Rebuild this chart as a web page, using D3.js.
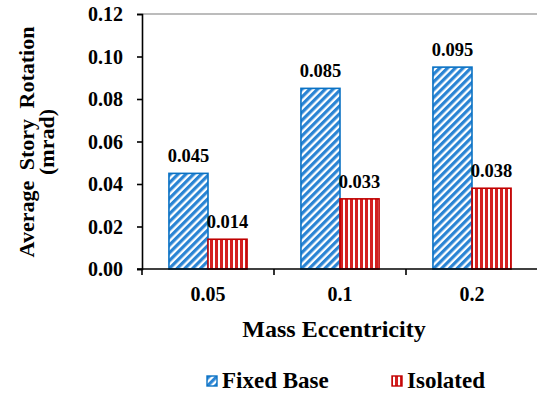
<!DOCTYPE html>
<html>
<head>
<meta charset="utf-8">
<script src="https://cdn.jsdelivr.net/npm/d3@7"></script>
</head>
<body style="margin:0;background:#fff">
<svg id="chart" width="537" height="396" style="display:block;background:#fff"></svg>
<script>
// Average story rotation by mass eccentricity
const categories = ["0.05", "0.1", "0.2"];
const seriesNames = ["Fixed Base", "Isolated"];
const fixedBase = [0.045, 0.085, 0.095];
const isolated = [0.014, 0.033, 0.038];
const valueLabels = [["0.045", "0.085", "0.095"], ["0.014", "0.033", "0.038"]];
const yTicks = [0, 0.02, 0.04, 0.06, 0.08, 0.10, 0.12];

const seriesValues = [fixedBase, isolated];
const colors = { stroke: ["#0a72c4", "#c00000"], fill: ["#2a84d4", "#d42020"] };
const FONT = "Liberation Serif";

const svg = d3.select("#chart");
const plot = { left: 142, right: 538, top: 14, bottom: 269 };

function serif(sel, size) {
  return sel.style("font-family", FONT).style("font-weight", "bold")
    .style("font-size", size + "px").attr("fill", "#000");
}

// patterns: diagonal hatch for fixed base, vertical stripes for isolated
const defs = svg.append("defs");
const diag = defs.append("pattern")
  .attr("id", "hatch-diag").attr("patternUnits", "userSpaceOnUse")
  .attr("width", 5.5).attr("height", 5.5)
  .attr("patternTransform", "rotate(45)");
diag.append("rect").attr("width", 5.5).attr("height", 5.5).attr("fill", "#fff");
diag.append("rect").attr("width", 3.2).attr("height", 5.5).attr("fill", colors.fill[0]);

const vert = defs.append("pattern")
  .attr("id", "hatch-vert").attr("patternUnits", "userSpaceOnUse")
  .attr("width", 5).attr("height", 5);
vert.append("rect").attr("width", 5).attr("height", 5).attr("fill", "#fff");
vert.append("rect").attr("width", 3).attr("height", 5).attr("fill", colors.fill[1]);

const fills = ["url(#hatch-diag)", "url(#hatch-vert)"];

const x0 = d3.scaleBand().domain(categories).range([plot.left, plot.right]).padding(0);
const x1 = d3.scaleBand().domain(seriesNames).range([0, x0.bandwidth()]).paddingInner(0).paddingOuter(0.69);
const y = d3.scaleLinear().domain([0, 0.12]).range([plot.bottom, plot.top]);

// top border of plot area
svg.append("line")
  .attr("x1", plot.left).attr("x2", 537)
  .attr("y1", y(0.12)).attr("y2", y(0.12))
  .attr("stroke", "#a6a6a6").attr("stroke-width", 1.5);

// bars
seriesNames.forEach((s, si) => {
  const g = svg.append("g");
  g.selectAll("rect").data(seriesValues[si]).join("rect")
    .attr("x", (d, i) => x0(categories[i]) + x1(s))
    .attr("y", d => y(d))
    .attr("width", x1.bandwidth())
    .attr("height", d => y(0) - y(d))
    .attr("fill", fills[si])
    .attr("stroke", colors.stroke[si])
    .attr("stroke-width", 1.6);
  serif(g.selectAll("text").data(seriesValues[si]).join("text"), 18.5)
    .attr("x", (d, i) => x0(categories[i]) + x1(s) + x1.bandwidth() / 2)
    .attr("y", d => y(d) - 11)
    .attr("text-anchor", "middle")
    .text((d, i) => valueLabels[si][i]);
});

// y axis
const yAxis = svg.append("g")
  .attr("transform", `translate(${plot.left},0)`)
  .call(d3.axisLeft(y).tickValues(yTicks).tickFormat(d3.format(".2f")).tickSizeOuter(0).tickSize(5).tickPadding(14));
yAxis.select(".domain").attr("stroke", "#000").attr("stroke-width", 1.6);
yAxis.selectAll(".tick line").attr("stroke", "#000").attr("stroke-width", 1.6);
serif(yAxis.selectAll(".tick text"), 20).attr("dy", "0.34em");

// x axis with ticks at category boundaries
const xAxis = svg.append("g")
  .attr("transform", `translate(0,${plot.bottom})`)
  .call(d3.axisBottom(x0).tickSize(0).tickPadding(18));
xAxis.select(".domain").attr("d", `M${plot.left - 5},0H537`).attr("stroke", "#000").attr("stroke-width", 1.6);
serif(xAxis.selectAll(".tick text"), 20);
xAxis.selectAll(".boundary").data(categories).join("line")
  .attr("class", "boundary")
  .attr("x1", d => x0(d)).attr("x2", d => x0(d))
  .attr("y1", 0).attr("y2", 6)
  .attr("stroke", "#000").attr("stroke-width", 1.6);

// axis titles
serif(svg.append("text"), 24)
  .attr("x", 334).attr("y", 337)
  .attr("text-anchor", "middle")
  .text("Mass Eccentricity");

const yTitle = serif(svg.append("text"), 22)
  .attr("transform", "translate(0,142) rotate(-90)")
  .attr("text-anchor", "middle")
  .style("word-spacing", "5px");
yTitle.append("tspan").attr("x", 0).attr("y", 34).text("Average Story Rotation");
yTitle.append("tspan").attr("x", 0).attr("y", 54).text("(mrad)");

// legend
const legendX = [207, 392];
const legend = svg.append("g");
seriesNames.forEach((s, si) => {
  legend.append("rect")
    .attr("x", legendX[si]).attr("y", 376)
    .attr("width", 10).attr("height", 10)
    .attr("fill", fills[si])
    .attr("stroke", colors.stroke[si]).attr("stroke-width", 1.4);
  serif(legend.append("text"), 23)
    .attr("x", legendX[si] + 15).attr("y", 388)
    .text(s);
});
</script>
</body>
</html>
